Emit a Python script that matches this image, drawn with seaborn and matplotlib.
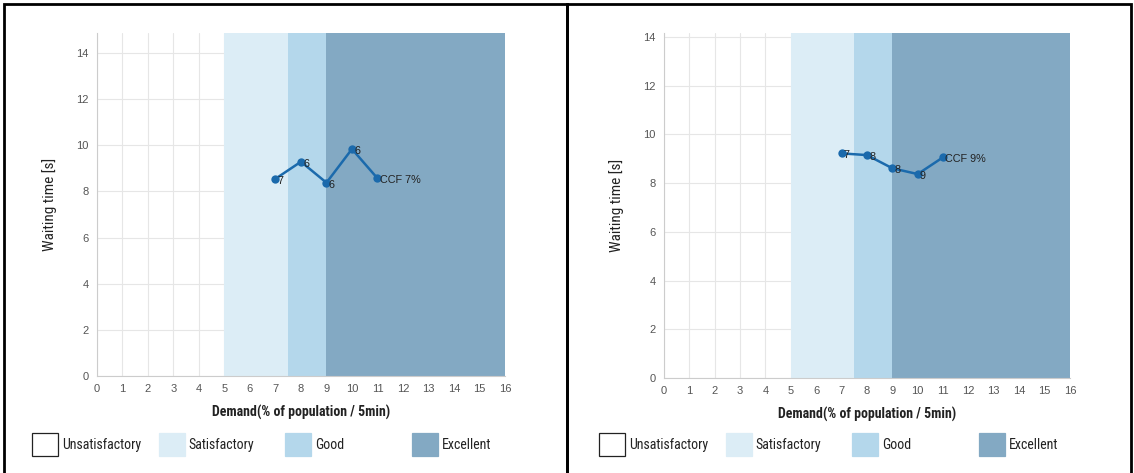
import numpy as np
import pandas as pd
import seaborn as sns
import matplotlib.pyplot as plt
from matplotlib import font_manager
from matplotlib.patches import Rectangle

# demand (% of population / 5min) for each scenario
demand = [7, 8, 9, 10, 11]

# left chart
wait_left = [8.55, 9.29, 8.38, 9.84, 8.57]
labels_left = ['7', '6', '6', '6', 'CCF 7%']

# right chart
wait_right = [9.22, 9.15, 8.61, 8.37, 9.06]
labels_right = ['7', '8', '8', '9', 'CCF 9%']

# quality bands along the demand axis
band_names = ['Unsatisfactory', 'Satisfactory', 'Good', 'Excellent']
band_edges = [0, 5, 7.5, 9, 16]
band_colors = ['#ffffff', '#dcedf6', '#b4d7eb', '#83a9c3']

x_ticks = list(range(0, 17))
y_ticks = [0, 2, 4, 6, 8, 10, 12, 14]

sns.set_theme(style='white')
plt.rcParams['font.family'] = ['Liberation Sans', 'DejaVu Sans']

# pick a narrow face for the labels if one is installed
installed = {f.name for f in font_manager.fontManager.ttflist}
narrow_size = 10
narrow = 'Roboto'
for cand in ['Liberation Sans Narrow', 'DejaVu Sans Condensed', 'Roboto Condensed',
             'Open Sans Condensed', 'Noto Sans Condensed']:
    if cand in installed:
        narrow = cand
        break
if narrow == 'Roboto':
    narrow_size = 9
narrow = [narrow, 'DejaVu Sans']

fig = plt.figure(figsize=(11.34, 4.73), dpi=100)

panels = [
    ([0.0855, 0.2051, 0.3598, 0.7251], 14.87, wait_left, labels_left),
    ([0.5855, 0.2008, 0.3580, 0.7294], 14.16, wait_right, labels_right),
]

for i, (pos, ytop, waits, lbls) in enumerate(panels):
    ax = fig.add_axes(pos)
    for k in range(1, len(band_names)):
        ax.axvspan(band_edges[k], band_edges[k + 1], color=band_colors[k], lw=0, zorder=1)

    df = pd.DataFrame({'demand': demand, 'wait': waits})
    sns.lineplot(data=df, x='demand', y='wait', ax=ax, color='#1b6aac', lw=1.8,
                 marker='o', markersize=6, markeredgewidth=0, zorder=3)
    for xv, yv, t in zip(demand, waits, lbls):
        ax.annotate(t, (xv, yv), xytext=(1.5, -1.5), textcoords='offset points',
                    fontsize=7.8, color='#222222', va='center', ha='left', zorder=4)

    ax.set_xlim(0, 16)
    ax.set_ylim(0, ytop)
    ax.set_xticks(x_ticks)
    ax.set_yticks(y_ticks)
    ax.grid(True, color='#e6e6e6', lw=0.8, zorder=0)
    ax.set_axisbelow(True)
    ax.tick_params(labelsize=8, colors='#555555', length=0, pad=6)
    for s in ['top', 'right']:
        ax.spines[s].set_visible(False)
    for s in ['left', 'bottom']:
        ax.spines[s].set_color('#cccccc')
        ax.spines[s].set_linewidth(0.8)

    ax.set_xlabel('Demand(% of population / 5min)', fontsize=narrow_size, fontweight='bold',
                  family=narrow, color='#222222', labelpad=8)
    ax.set_ylabel('Waiting time [s]', fontsize=narrow_size + 1, family=narrow, color='#222222',
                  labelpad=14)

    # legend row below each chart
    x0 = 32 / 1134 + i * 567 / 1134
    for k, name in enumerate(band_names):
        bx = x0 + k * 126.7 / 1134
        fig.add_artist(Rectangle((bx, 1 - 456 / 473), 26 / 1134, 23 / 473,
                                 transform=fig.transFigure, facecolor=band_colors[k],
                                 edgecolor='#222222' if k == 0 else band_colors[k], lw=0.9))
        fig.text(bx + 30 / 1134, 1 - 445 / 473, name, fontsize=narrow_size, family=narrow,
                 color='#222222', va='center', ha='left')

# panel borders
for left, right in [(4, 567), (567, 1131)]:
    fig.add_artist(Rectangle((left / 1134, -0.01), (right - left) / 1134, 1 - 4 / 473 + 0.01,
                             transform=fig.transFigure, fill=False, edgecolor='black', lw=2))

fig.savefig('out.png', dpi=100)
